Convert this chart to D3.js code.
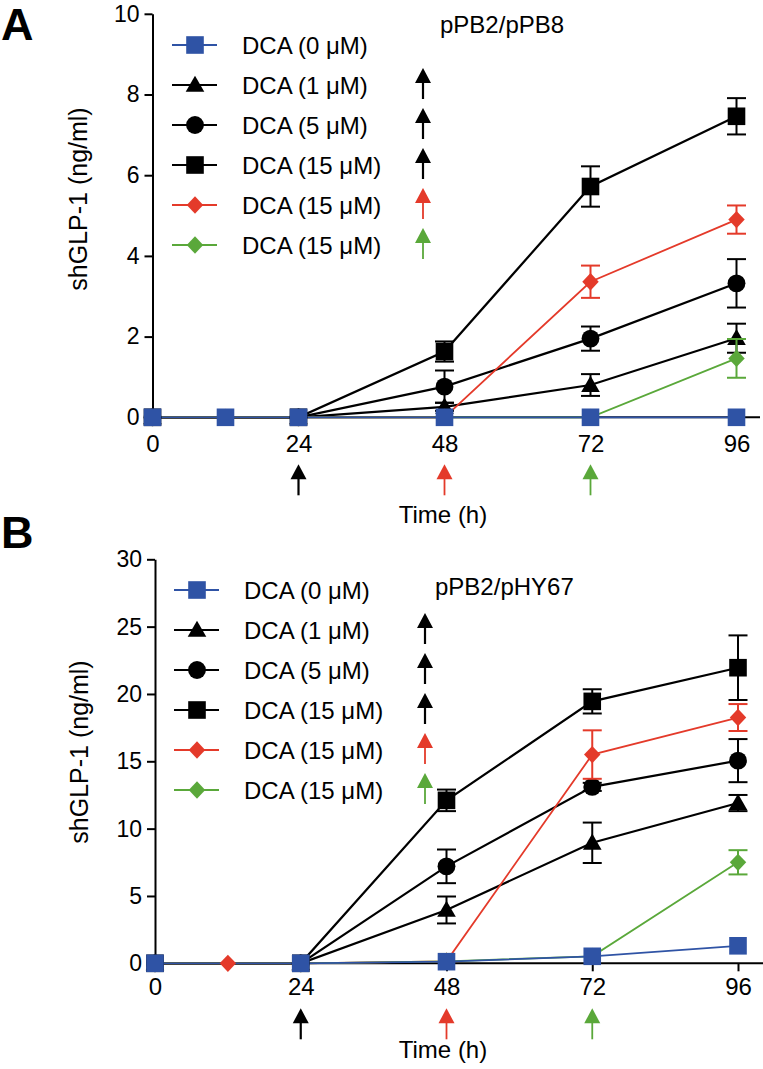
<!DOCTYPE html>
<html>
<head>
<meta charset="utf-8">
<script src="https://cdn.jsdelivr.net/npm/d3@7/dist/d3.min.js"></script>
<style>
  html, body { margin: 0; padding: 0; background: #fff; }
  text { font-family: "Liberation Sans", Arial, sans-serif; }
</style>
</head>
<body>
<div id="chart"></div>
<script>
// sampling times (h)
const hours = [0, 12, 24, 48, 72, 96];
const xTicks = [0, 24, 48, 72, 96];
const legendLabels = ["DCA (0 μM)", "DCA (1 μM)", "DCA (5 μM)", "DCA (15 μM)", "DCA (15 μM)", "DCA (15 μM)"];
const addTimes = [24, 48, 72]; // DCA added (arrows under the axis)

// panel A: pPB2/pPB8 (ng/ml), null = no point
const aBlue = [0, 0, 0, 0, 0, 0];
const aTri = [0, null, 0, 0.26, 0.8, 1.96];
const aTriErr = [0, null, 0, 0.1, 0.27, 0.36];
const aCirc = [0, null, 0, 0.76, 1.95, 3.32];
const aCircErr = [0, null, 0, 0.4, 0.3, 0.6];
const aSq = [0, null, 0, 1.63, 5.72, 7.46];
const aSqErr = [0, null, 0, 0.25, 0.5, 0.45];
const aRed = [0, 0, 0, 0, 3.36, 4.9];
const aRedErr = [0, 0, 0, 0, 0.4, 0.35];
const aGreen = [0, null, 0, 0, 0, 1.46];
const aGreenErr = [0, null, 0, 0, 0, 0.48];

// panel B: pPB2/pHY67 (ng/ml)
const bBlue = [0, null, 0, 0.12, 0.52, 1.3];
const bTri = [0, null, 0, 3.96, 8.95, 11.9];
const bTriErr = [0, null, 0, 1.0, 1.5, 0.6];
const bCirc = [0, null, 0, 7.2, 13.1, 15.05];
const bCircErr = [0, null, 0, 1.25, 0.3, 1.6];
const bSq = [0, null, 0, 12.1, 19.45, 21.95];
const bSqErr = [0, null, 0, 0.8, 0.9, 2.4];
const bRed = [0, 0, 0, 0.15, 15.5, 18.25];
const bRedErr = [0, 0, 0, 0, 1.8, 1.0];
const bGreen = [0, null, 0, 0.15, 0.52, 7.5];
const bGreenErr = [0, null, 0, 0, 0, 0.9];

const BLUE = "#2f53a5", RED = "#e43a2a", GREEN = "#5aa83a", BLACK = "#000";

const width = 763, height = 1069;
const svg = d3.select("#chart").append("svg")
    .attr("width", width)
    .attr("height", height);

// square turned 45 degrees, like the GraphPad diamond
const diamond = {
    draw(context, size) {
        const r = Math.sqrt(size / 2);
        context.moveTo(0, -r);
        context.lineTo(r * 0.95, 0);
        context.lineTo(0, r);
        context.lineTo(-r * 0.95, 0);
        context.closePath();
    }
};
const symbolFor = { square: d3.symbolSquare, triangle: d3.symbolTriangle, circle: d3.symbolCircle, diamond: diamond };
const symbolSize = { square: 310, triangle: 150, circle: 250, diamond: 150 };

function drawArrow(g, ax, tipY, color) {
    g.append("line")
        .attr("x1", ax).attr("x2", ax)
        .attr("y1", tipY + 10).attr("y2", tipY + 31)
        .attr("stroke", color).attr("stroke-width", color === BLACK ? 2.2 : 1.8);
    g.append("path")
        .attr("d", `M${ax},${tipY} L${ax + 8},${tipY + 15} L${ax - 8},${tipY + 15} Z`)
        .attr("fill", color);
}

function drawPanel(p) {
    const g = svg.append("g");
    const x = d3.scaleLinear().domain([0, 96]).range(p.xRange);
    const y = d3.scaleLinear().domain([0, p.yMax]).range(p.yRange);

    // y axis
    g.append("g")
        .attr("transform", `translate(${p.xRange[0]},0)`)
        .call(d3.axisLeft(y).tickValues(p.yTicks).tickSize(8).tickPadding(5).tickSizeOuter(0))
        .call(a => a.selectAll("text").attr("font-size", 23).attr("fill", "#000").attr("font-family", "Liberation Sans, Arial"))
        .call(a => a.selectAll("line,path").attr("stroke", "#000").attr("stroke-width", 2));

    // x axis
    g.append("g")
        .attr("transform", `translate(0,${p.yRange[0]})`)
        .call(d3.axisBottom(x).tickValues(xTicks).tickSize(8).tickPadding(p.xPad).tickSizeOuter(0))
        .call(a => a.select(".domain").remove())
        .call(a => a.selectAll("text").attr("font-size", 24).attr("fill", "#000").attr("font-family", "Liberation Sans, Arial"))
        .call(a => a.selectAll("line").attr("stroke", "#000").attr("stroke-width", 2));
    g.append("line")
        .attr("x1", p.xRange[0]).attr("x2", p.axisEnd)
        .attr("y1", p.yRange[0]).attr("y2", p.yRange[0])
        .attr("stroke", "#000").attr("stroke-width", 2);

    const line = d3.line()
        .defined(d => d.v !== null)
        .x(d => x(d.t))
        .y(d => y(d.v));

    const rows = p.series.map(s => ({
        ...s,
        pts: hours.map((t, i) => ({ t, v: s.values[i], e: s.err ? s.err[i] : 0 })).filter(d => d.v !== null)
    }));

    // lines (blue drawn last so it sits on top)
    const order = [1, 2, 3, 4, 5, 0];
    order.forEach(k => {
        const s = rows[k];
        g.append("path")
            .datum(s.pts)
            .attr("d", line)
            .attr("fill", "none")
            .attr("stroke", s.color)
            .attr("stroke-width", s.color === BLACK ? 2.2 : 1.8);
    });

    // error bars + markers
    order.forEach(k => {
        const s = rows[k];
        const eb = s.pts.filter(d => d.e > 0);
        const eg = g.append("g").attr("stroke", s.color).attr("stroke-width", 2);
        eg.selectAll(".v").data(eb).join("line")
            .attr("x1", d => x(d.t)).attr("x2", d => x(d.t))
            .attr("y1", d => y(d.v - d.e)).attr("y2", d => y(d.v + d.e));
        eg.selectAll(".top").data(eb).join("line")
            .attr("x1", d => x(d.t) - 9.5).attr("x2", d => x(d.t) + 9.5)
            .attr("y1", d => y(d.v + d.e)).attr("y2", d => y(d.v + d.e));
        eg.selectAll(".bot").data(eb).join("line")
            .attr("x1", d => x(d.t) - 9.5).attr("x2", d => x(d.t) + 9.5)
            .attr("y1", d => y(d.v - d.e)).attr("y2", d => y(d.v - d.e));
        g.selectAll(null).data(s.pts).join("path")
            .attr("transform", d => `translate(${x(d.t)},${y(d.v) + (s.shape === "triangle" ? 1.5 : 0)})`)
            .attr("d", d3.symbol(symbolFor[s.shape], symbolSize[s.shape]))
            .attr("fill", s.color);
    });

    // legend
    rows.forEach((s, i) => {
        const ly = p.legendY + i * 40;
        const lg = g.append("g");
        lg.append("line")
            .attr("x1", p.legendX).attr("x2", p.legendX + 45)
            .attr("y1", ly).attr("y2", ly)
            .attr("stroke", s.color).attr("stroke-width", s.color === BLACK ? 2.2 : 1.8);
        lg.append("path")
            .attr("transform", `translate(${p.legendX + 23},${ly + (s.shape === "triangle" ? 1.5 : 0)})`)
            .attr("d", d3.symbol(symbolFor[s.shape], symbolSize[s.shape]))
            .attr("fill", s.color);
        lg.append("text")
            .attr("x", p.legendX + 70).attr("y", ly)
            .attr("dy", "0.36em")
            .attr("font-size", 24)
            .text(legendLabels[i]);
        if (i > 0) drawArrow(g, p.arrowX, ly - 17, s.color);
    });

    // arrows under the x axis
    addTimes.forEach((t, i) => drawArrow(g, x(t), p.yRange[0] + p.arrowGap, [BLACK, RED, GREEN][i]));

    // labels
    g.append("text")
        .attr("x", p.titleX).attr("y", p.titleY)
        .attr("font-size", 24)
        .text(p.title);
    g.append("text")
        .attr("x", 443).attr("y", p.xLabelY)
        .attr("text-anchor", "middle")
        .attr("font-size", 24)
        .text("Time (h)");
    g.append("text")
        .attr("transform", `translate(${p.yLabelX},${p.yLabelY}) rotate(-90)`)
        .attr("text-anchor", "middle")
        .attr("font-size", 25)
        .text("shGLP-1 (ng/ml)");
    g.append("text")
        .attr("x", 1).attr("y", p.letterY)
        .attr("font-size", 45)
        .attr("font-weight", "bold")
        .text(p.letter);
}

function makeSeries(v) {
    return [
        { values: v[0], err: null, color: BLUE, shape: "square" },
        { values: v[1], err: v[2], color: BLACK, shape: "triangle" },
        { values: v[3], err: v[4], color: BLACK, shape: "circle" },
        { values: v[5], err: v[6], color: BLACK, shape: "square" },
        { values: v[7], err: v[8], color: RED, shape: "diamond" },
        { values: v[9], err: v[10], color: GREEN, shape: "diamond" }
    ];
}

drawPanel({
    letter: "A", letterY: 40,
    title: "pPB2/pPB8", titleX: 440, titleY: 33,
    xRange: [152.5, 736.5], yRange: [417.3, 13.8], yMax: 10, yTicks: [0, 2, 4, 6, 8, 10],
    axisEnd: 760, xPad: 10, arrowGap: 47, xLabelY: 523,
    yLabelX: 87, yLabelY: 199,
    legendX: 172, legendY: 45, arrowX: 423,
    series: makeSeries([aBlue, aTri, aTriErr, aCirc, aCircErr, aSq, aSqErr, aRed, aRedErr, aGreen, aGreenErr])
});

drawPanel({
    letter: "B", letterY: 548,
    title: "pPB2/pHY67", titleX: 435, titleY: 595,
    xRange: [155, 738], yRange: [963.3, 559.3], yMax: 30, yTicks: [0, 5, 10, 15, 20, 25, 30],
    axisEnd: 763, xPad: 7, arrowGap: 45, xLabelY: 1058,
    yLabelX: 88, yLabelY: 752,
    legendX: 174, legendY: 590, arrowX: 425,
    series: makeSeries([bBlue, bTri, bTriErr, bCirc, bCircErr, bSq, bSqErr, bRed, bRedErr, bGreen, bGreenErr])
});
</script>
</body>
</html>
